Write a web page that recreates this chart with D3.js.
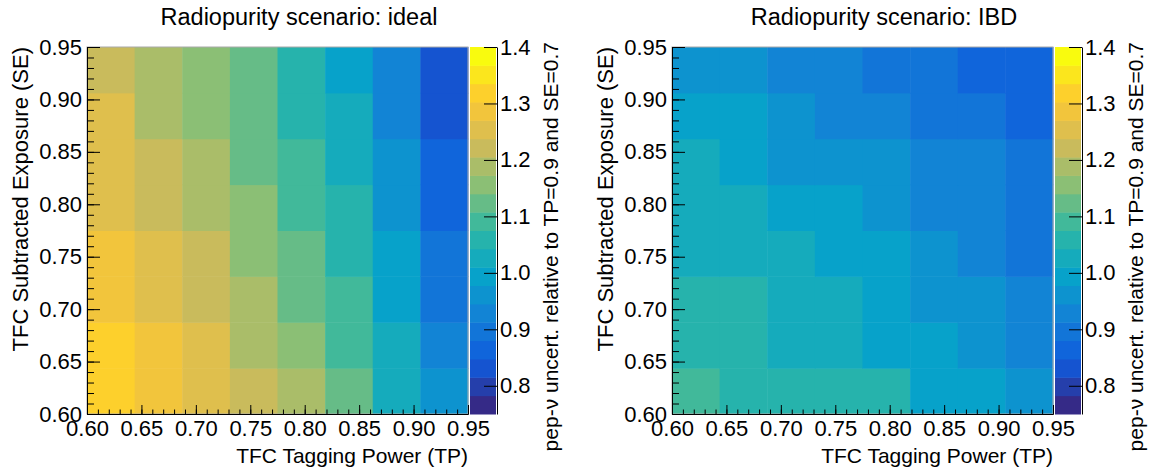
<!DOCTYPE html>
<html>
<head>
<meta charset="utf-8">
<script src="https://cdn.jsdelivr.net/npm/d3@7"></script>
<style>
body{margin:0;background:#fff}
svg{display:block;font-family:"Liberation Sans",Arial,Helvetica,sans-serif}
.axis path,.axis line{stroke:#000;stroke-width:1}
.axis text{fill:#000;font-size:22px;font-family:"Liberation Sans",Arial,sans-serif}
</style>
</head>
<body>
<svg id="chart" width="1149" height="472"></svg>
<script>
// grid points (bin centres), TP along x, SE along y
var tp = [0.60, 0.65, 0.70, 0.75, 0.80, 0.85, 0.90, 0.95]
var se = [0.60, 0.65, 0.70, 0.75, 0.80, 0.85, 0.90, 0.95]
var axisTicks = [0.60, 0.65, 0.70, 0.75, 0.80, 0.85, 0.90, 0.95]
var zTicks = [0.8, 0.9, 1.0, 1.1, 1.2, 1.3, 1.4]
var zMin = 0.75, zMax = 1.4, nContours = 20

// ROOT kBird palette
var birdStops = [0.0, 0.125, 0.25, 0.375, 0.5, 0.625, 0.75, 0.875, 1.0]
var birdR = [0.2082, 0.0592, 0.0780, 0.0232, 0.1802, 0.5301, 0.8186, 0.9956, 0.9764]
var birdG = [0.1664, 0.3599, 0.5041, 0.6419, 0.7178, 0.7492, 0.7328, 0.7862, 0.9832]
var birdB = [0.5293, 0.8684, 0.8385, 0.7914, 0.6425, 0.4662, 0.3499, 0.1968, 0.0539]

// pep-nu uncertainty, rows = SE (0.60 -> 0.95), cols = TP (0.60 -> 0.95)
var ideal = [
    [1.32, 1.29, 1.25, 1.22, 1.19, 1.12, 1.03, 0.96],
    [1.32, 1.29, 1.25, 1.19, 1.16, 1.09, 1.03, 0.93],
    [1.29, 1.25, 1.22, 1.19, 1.12, 1.09, 0.99, 0.90],
    [1.29, 1.25, 1.22, 1.16, 1.12, 1.06, 0.99, 0.90],
    [1.25, 1.22, 1.19, 1.16, 1.09, 1.06, 0.96, 0.86],
    [1.25, 1.22, 1.19, 1.12, 1.09, 1.03, 0.96, 0.86],
    [1.25, 1.19, 1.16, 1.12, 1.06, 1.03, 0.93, 0.83],
    [1.22, 1.19, 1.16, 1.12, 1.06, 0.99, 0.93, 0.83]
]
var ibd = [
    [1.09, 1.06, 1.06, 1.06, 1.06, 0.99, 0.99, 0.96],
    [1.06, 1.06, 1.03, 1.03, 0.99, 0.99, 0.96, 0.93],
    [1.06, 1.06, 1.03, 1.03, 0.99, 0.96, 0.96, 0.93],
    [1.03, 1.03, 1.03, 0.99, 0.99, 0.96, 0.93, 0.90],
    [1.03, 1.03, 0.99, 0.99, 0.96, 0.93, 0.93, 0.90],
    [1.03, 0.99, 0.96, 0.96, 0.96, 0.93, 0.93, 0.90],
    [0.99, 0.99, 0.96, 0.93, 0.93, 0.90, 0.90, 0.86],
    [0.96, 0.96, 0.93, 0.93, 0.90, 0.90, 0.88, 0.86]
]

var panels = [
    {left: 87, title: "Radiopurity scenario: ideal", values: ideal, titleX: 299},
    {left: 672, title: "Radiopurity scenario: IBD", values: ibd, titleX: 884}
]

var plotTop = 47, W = 381, H = 367

// palette -> 20 discrete contour colours
var bird = d3.scaleLinear().domain(birdStops)
    .range(birdStops.map(function(s, i) { return d3.rgb(birdR[i]*255, birdG[i]*255, birdB[i]*255) }))
    .interpolate(d3.interpolateRgb)
var bandColors = d3.range(nContours).map(function(i) { return bird(i / (nContours - 1)).toString() })
var color = d3.scaleQuantize().domain([zMin, zMax]).range(bandColors)

var svg = d3.select("#chart")
svg.append("rect").attr("width", 1149).attr("height", 472).attr("fill", "#fff")

panels.forEach(function(p) {
    var g = svg.append("g")
    var x = d3.scaleLinear().domain([0.6, 0.95]).range([p.left, p.left + W])
    var y = d3.scaleLinear().domain([0.6, 0.95]).range([plotTop + H, plotTop])
    var xb = d3.scaleBand().domain(tp).range([p.left, p.left + W])
    var yb = d3.scaleBand().domain(se).range([plotTop + H, plotTop])

    // cells
    var cells = []
    p.values.forEach(function(row, r) {
        row.forEach(function(v, c) { cells.push({tp: tp[c], se: se[r], v: v}) })
    })
    g.selectAll(".cell").data(cells).enter().append("rect")
        .attr("x", function(d) { return xb(d.tp) })
        .attr("y", function(d) { return yb(d.se) })
        .attr("width", xb.bandwidth() + 0.5)
        .attr("height", yb.bandwidth() + 0.5)
        .attr("fill", function(d) { return color(d.v) })

    // frame
    g.append("rect").attr("x", p.left).attr("y", plotTop).attr("width", W).attr("height", H)
        .attr("fill", "none").attr("stroke", "#aaa").attr("stroke-width", 1)

    // minor ticks
    var minor = d3.range(60, 96).map(function(v) { return v / 100 })
    g.append("g").attr("class", "axis").attr("transform", "translate(0," + (plotTop + H) + ")")
        .call(d3.axisBottom(x).tickValues(minor).tickSizeInner(-4.5).tickSizeOuter(0).tickFormat(""))
    g.append("g").attr("class", "axis").attr("transform", "translate(" + p.left + ",0)")
        .call(d3.axisLeft(y).tickValues(minor).tickSizeInner(-7).tickSizeOuter(0).tickFormat(""))

    // major ticks + labels
    g.append("g").attr("class", "axis").attr("transform", "translate(0," + (plotTop + H) + ")")
        .call(d3.axisBottom(x).tickValues(axisTicks).tickSizeInner(-9).tickSizeOuter(0).tickPadding(6).tickFormat(d3.format(".2f")))
    g.append("g").attr("class", "axis").attr("transform", "translate(" + p.left + ",0)")
        .call(d3.axisLeft(y).tickValues(axisTicks).tickSizeInner(-13).tickSizeOuter(0).tickPadding(5).tickFormat(d3.format(".2f")))

    // colour bar
    var cbLeft = p.left + W + 2, cbW = 27
    var z = d3.scaleLinear().domain([zMin, zMax]).range([plotTop + H, plotTop])
    var step = (zMax - zMin) / nContours
    g.selectAll(".band").data(d3.range(nContours)).enter().append("rect")
        .attr("x", cbLeft)
        .attr("y", function(i) { return z(zMin + (i + 1) * step) })
        .attr("width", cbW - 1)
        .attr("height", function(i) { return z(zMin + i * step) - z(zMin + (i + 1) * step) + 0.5 })
        .attr("fill", function(i) { return bandColors[i] })
    g.append("g").attr("class", "axis").attr("transform", "translate(" + (cbLeft + cbW) + ",0)")
        .call(d3.axisRight(z).tickValues(zTicks).tickSizeInner(-13).tickSizeOuter(0).tickPadding(3).tickFormat(d3.format(".1f")))

    // titles
    g.append("text").attr("x", p.titleX).attr("y", 25).attr("text-anchor", "middle")
        .attr("font-size", 23.5).text(p.title)
    g.append("text").attr("x", p.left + W).attr("y", 463).attr("text-anchor", "end")
        .attr("font-size", 21).text("TFC Tagging Power (TP)")
    g.append("text").attr("transform", "translate(" + (p.left - 59) + "," + plotTop + ") rotate(-90)")
        .attr("text-anchor", "end").attr("font-size", 22).text("TFC Subtracted Exposure (SE)")
    g.append("text").attr("transform", "translate(" + (p.left + 471) + "," + (plotTop - 5) + ") rotate(-90)")
        .attr("text-anchor", "end").attr("font-size", 21).text("pep-ν uncert. relative to TP=0.9 and SE=0.7")
})
</script>
</body>
</html>
